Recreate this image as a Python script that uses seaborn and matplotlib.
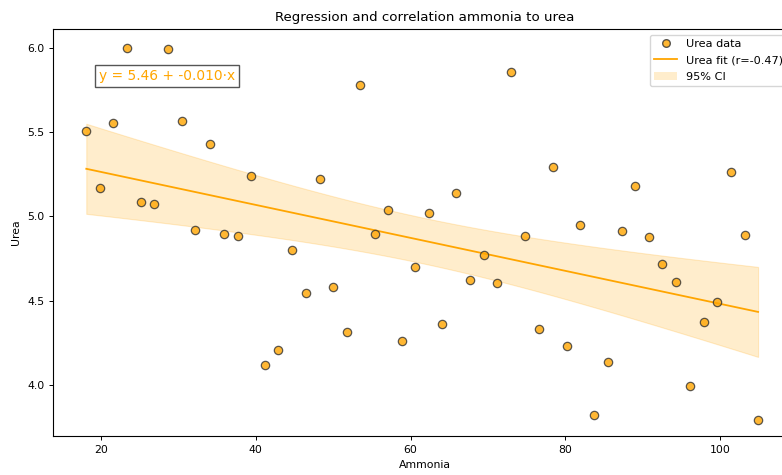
import matplotlib
matplotlib.use("Agg")
import matplotlib.pyplot as plt
import matplotlib.patches as mpatches
from matplotlib.lines import Line2D
import numpy as np
import seaborn as sns

# Ammonia vs urea readings
ammonia = [18.1, 19.9, 21.6, 23.4, 25.2, 26.9, 28.7, 30.45, 32.2, 34.1,
           35.9, 37.7, 39.4, 41.2, 42.9, 44.7, 46.45, 48.26, 49.97, 51.8,
           53.5, 55.35, 57.1, 58.9, 60.6, 62.4, 64.1, 65.9, 67.7, 69.5,
           71.2, 73.0, 74.8, 76.6, 78.4, 80.2, 81.9, 83.7, 85.5, 87.3,
           89.0, 90.8, 92.55, 94.3, 96.1, 97.85, 99.6, 101.4, 103.2, 104.9]
urea = [5.504, 5.167, 5.555, 5.998, 5.085, 5.071, 5.992, 5.565, 4.917, 5.427,
        4.899, 4.885, 5.238, 4.119, 4.207, 4.800, 4.548, 5.220, 4.582, 4.314,
        5.778, 4.897, 5.036, 4.260, 4.701, 5.022, 4.365, 5.137, 4.625, 4.772,
        4.605, 5.853, 4.885, 4.335, 5.292, 4.230, 4.951, 3.827, 4.139, 4.911,
        5.183, 4.880, 4.720, 4.609, 3.994, 4.375, 4.494, 5.262, 4.889, 3.794]

x = np.array(ammonia)
y = np.array(urea)
n = len(x)
slope, intercept = np.polyfit(x, y, 1)
r = np.corrcoef(x, y)[0, 1]

# analytic 95% confidence band of the fitted mean
t_crit = 2.0106  # t(0.975, df=48)
xs = np.linspace(x.min(), x.max(), 200)
fit = intercept + slope * xs
resid = y - (intercept + slope * x)
s_err = np.sqrt(np.sum(resid ** 2) / (n - 2))
half = t_crit * s_err * np.sqrt(1 / n + (xs - x.mean()) ** 2 / np.sum((x - x.mean()) ** 2))

fig = plt.figure(figsize=(7.82, 4.75), dpi=100)
# axes extends slightly past the right edge like the original
ax = fig.add_axes([53 / 782, 39 / 475, 743 / 782, 407 / 475])

ax.fill_between(xs, fit - half, fit + half, color="orange", alpha=0.2, lw=0.8)
sns.regplot(x=x, y=y, ax=ax, scatter=False, ci=None, truncate=True,
            color="orange", line_kws={"lw": 1.3})

sns.scatterplot(x=x, y=y, ax=ax, color="orange", edgecolor="#333333",
                linewidth=0.9, s=36, alpha=0.8, zorder=3)

ax.text(0.062, 0.885, f"y = {intercept:.2f} + {slope:.3f}·x", transform=ax.transAxes,
        color="orange", fontsize=9.9, va="center",
        bbox=dict(boxstyle="square,pad=0.3", facecolor="white", edgecolor="#555555"))

handles = [
    Line2D([], [], marker="o", ls="", markerfacecolor="orange", markeredgecolor="#333333",
           alpha=0.8, markersize=5.5),
    Line2D([], [], color="orange", lw=1.3),
    mpatches.Patch(facecolor="orange", alpha=0.2),
]
labels = ["Urea data", f"Urea fit (r={r:.2f})", "95% CI"]
ax.legend(handles, labels, loc="upper right", bbox_to_anchor=(0.996, 1.0),
          fontsize=8.1, labelspacing=0.55)

ax.set_title("Regression and correlation ammonia to urea", fontsize=9.6)
ax.set_xlabel("Ammonia", fontsize=7.8)
ax.set_ylabel("Urea", fontsize=7.8)
ax.tick_params(labelsize=7.8, length=2.8, width=0.7)
for sp in ax.spines.values():
    sp.set_linewidth(0.8)
ax.set_xlim(13.8, 109.8)
ax.set_ylim(3.70, 6.11)
ax.set_yticks([4.0, 4.5, 5.0, 5.5, 6.0])
ax.set_xticks([20, 40, 60, 80, 100])

fig.savefig("out.png", dpi=100)
